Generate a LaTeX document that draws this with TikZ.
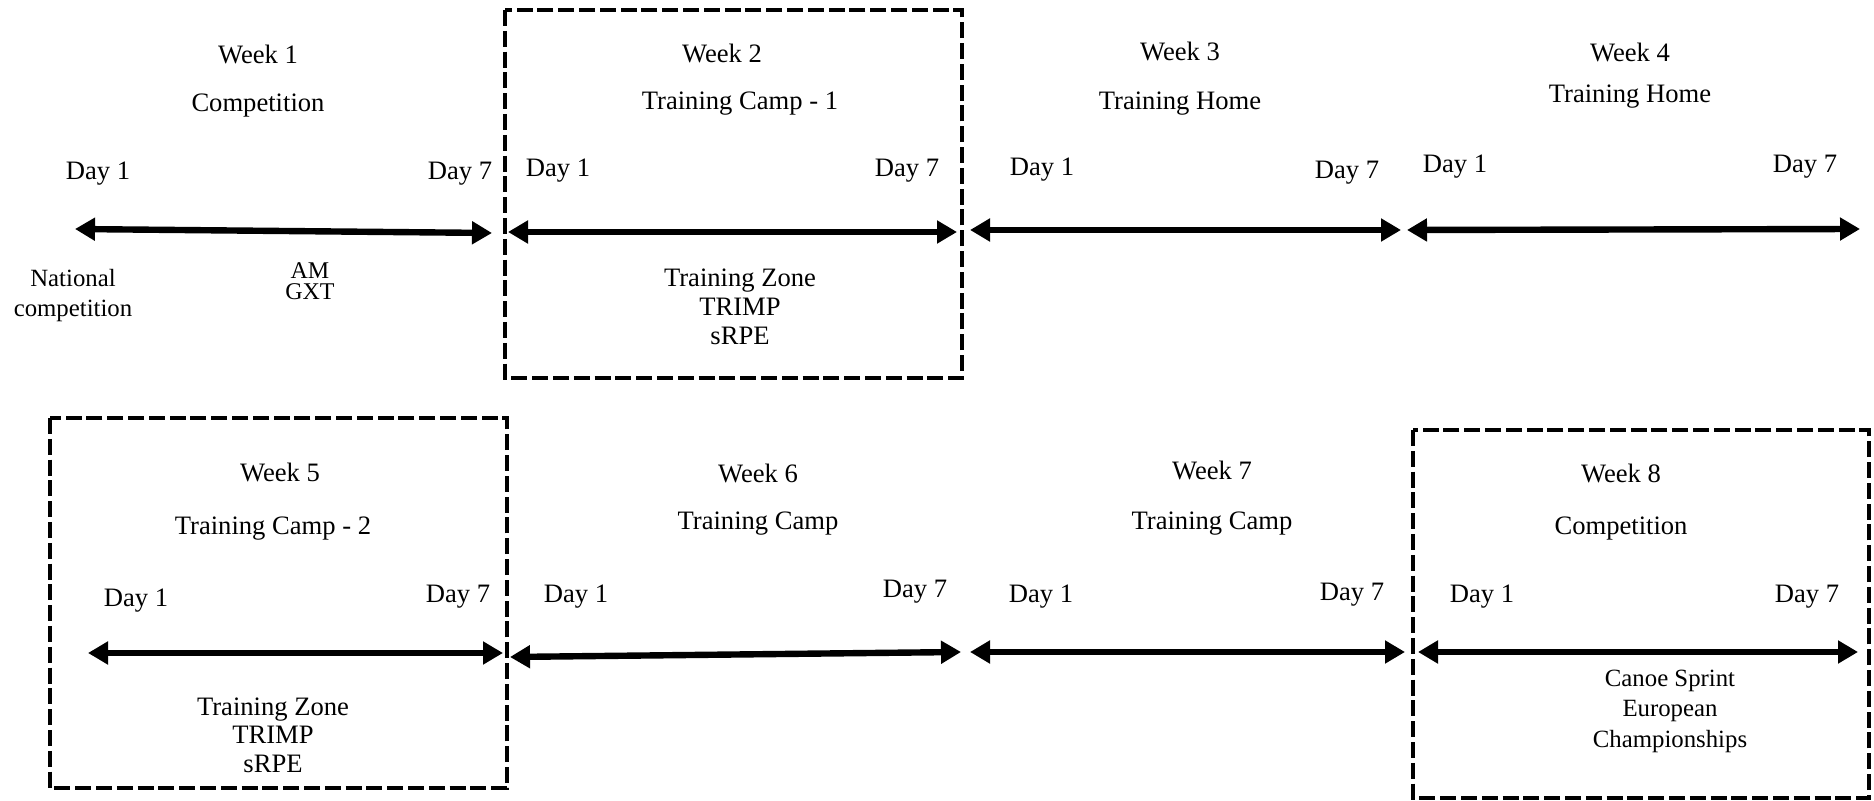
\documentclass[tikz,border=0pt]{standalone}
\usepackage{fontspec}
\setmainfont{Liberation Serif}
\usetikzlibrary{arrows.meta}
\tikzset{
  lab/.style={anchor=base,inner sep=0pt,font=\fontsize{13.3}{16}\selectfont},
  sublab/.style={anchor=base,inner sep=0pt,font=\fontsize{12.4}{15}\selectfont},
  smalllab/.style={anchor=base,inner sep=0pt,font=\fontsize{12}{12}\selectfont},
  weekarrow/.style={line width=3.2pt,{Triangle[length=10pt,width=11pt]}-{Triangle[length=10pt,width=11pt]}},
  campbox/.style={line width=2.3pt,dash pattern=on 8pt off 2.4pt}
}
\begin{document}
\begin{tikzpicture}[x=0.5pt,y=-0.5pt]
\fill[white] (0,0) rectangle (1874,801);
\useasboundingbox (0,0) rectangle (1874,801);

% dashed boxes
\coordinate (b2a) at (505,10);  \coordinate (b2b) at (962,378);
\coordinate (b5a) at (50,418);  \coordinate (b5b) at (507,788);
\coordinate (b8a) at (1413,430); \coordinate (b8b) at (1869,798);
\draw[campbox] (b2a) rectangle (b2b);
\draw[campbox] (b5a) rectangle (b5b);
\draw[campbox] (b8a) rectangle (b8b);

% arrows
\coordinate (a1l) at (75,229);   \coordinate (a1r) at (492,233);
\coordinate (a2l) at (508,232);  \coordinate (a2r) at (957,232);
\coordinate (a3l) at (970,230);  \coordinate (a3r) at (1401,230);
\coordinate (a4l) at (1407,230); \coordinate (a4r) at (1860,229);
\coordinate (a5l) at (88,653);   \coordinate (a5r) at (503,653);
\coordinate (a6l) at (510,657);  \coordinate (a6r) at (961,652);
\coordinate (a7l) at (970,652);  \coordinate (a7r) at (1405,652);
\coordinate (a8l) at (1418,652); \coordinate (a8r) at (1858,652);
\draw[weekarrow] (a1l) -- (a1r);
\draw[weekarrow] (a2l) -- (a2r);
\draw[weekarrow] (a3l) -- (a3r);
\draw[weekarrow] (a4l) -- (a4r);
\draw[weekarrow] (a5l) -- (a5r);
\draw[weekarrow] (a6l) -- (a6r);
\draw[weekarrow] (a7l) -- (a7r);
\draw[weekarrow] (a8l) -- (a8r);

% week 1
\node[lab] (w1) at (258,64) {Week 1};
\node[lab] (t1) at (258,112) {Competition};
\node[lab] (d11) at (98,180) {Day 1};
\node[lab] (d17) at (460,180) {Day 7};
\node[sublab] (nat1) at (73,287) {National};
\node[sublab] (nat2) at (73,317) {competition};
\node[smalllab] (am) at (310,279) {AM};
\node[smalllab] (gxt) at (310,300) {GXT};

% week 2
\node[lab] (w2) at (722,63) {Week 2};
\node[lab] (t2) at (740,110) {Training Camp - 1};
\node[lab] (d21) at (558,177) {Day 1};
\node[lab] (d27) at (907,177) {Day 7};
\node[lab] (z2a) at (740,287) {Training Zone};
\node[lab] (z2b) at (740,316) {TRIMP};
\node[lab] (z2c) at (740,345) {sRPE};

% week 3
\node[lab] (w3) at (1180,61) {Week 3};
\node[lab] (t3) at (1180,110) {Training Home};
\node[lab] (d31) at (1042,176) {Day 1};
\node[lab] (d37) at (1347,179) {Day 7};

% week 4
\node[lab] (w4) at (1630,62) {Week 4};
\node[lab] (t4) at (1630,103) {Training Home};
\node[lab] (d41) at (1455,173) {Day 1};
\node[lab] (d47) at (1805,173) {Day 7};

% week 5
\node[lab] (w5) at (280,482) {Week 5};
\node[lab] (t5) at (273,535) {Training Camp - 2};
\node[lab] (d51) at (136,607) {Day 1};
\node[lab] (d57) at (458,603) {Day 7};
\node[lab] (z5a) at (273,715) {Training Zone};
\node[lab] (z5b) at (273,743) {TRIMP};
\node[lab] (z5c) at (273,772) {sRPE};

% week 6
\node[lab] (w6) at (758,483) {Week 6};
\node[lab] (t6) at (758,530) {Training Camp};
\node[lab] (d61) at (576,603) {Day 1};
\node[lab] (d67) at (915,598) {Day 7};

% week 7
\node[lab] (w7) at (1212,480) {Week 7};
\node[lab] (t7) at (1212,530) {Training Camp};
\node[lab] (d71) at (1041,603) {Day 1};
\node[lab] (d77) at (1352,601) {Day 7};

% week 8
\node[lab] (w8) at (1621,483) {Week 8};
\node[lab] (t8) at (1621,535) {Competition};
\node[lab] (d81) at (1482,603) {Day 1};
\node[lab] (d87) at (1807,603) {Day 7};
\node[sublab] (e8a) at (1670,686) {Canoe Sprint};
\node[sublab] (e8b) at (1670,716) {European};
\node[sublab] (e8c) at (1670,747) {Championships};
\end{tikzpicture}
\end{document}
